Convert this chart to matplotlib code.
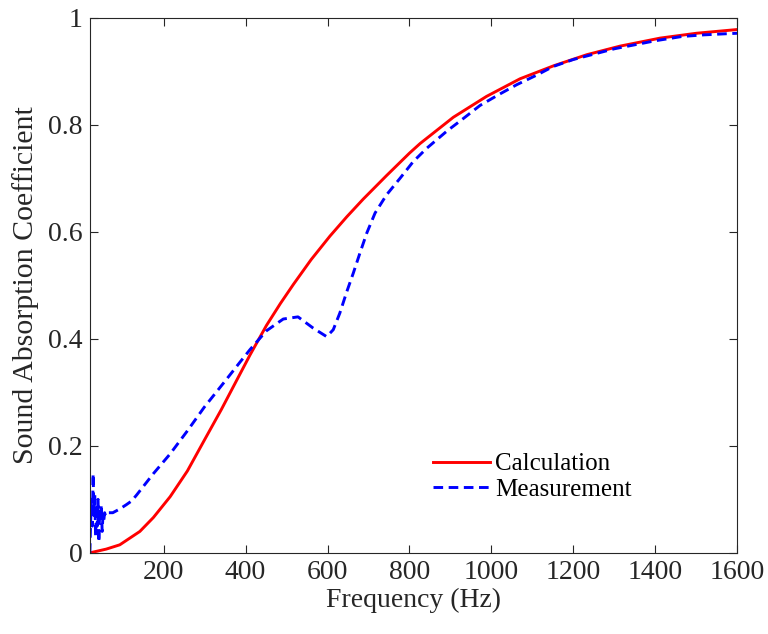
import matplotlib
matplotlib.use("Agg")
import matplotlib.pyplot as plt
from matplotlib.ticker import FixedLocator, FuncFormatter

plt.rcParams["font.family"] = ["Liberation Serif", "DejaVu Serif"]

# calculated absorption coefficient
f_calc = [20, 60, 93, 142, 175, 216, 258, 299, 341, 378, 411, 451, 485, 517,
          560, 606, 647, 687, 744, 800, 826, 907, 988, 1070, 1151, 1233, 1314,
          1412, 1500, 1600]
a_calc = [0.0, 0.007, 0.015, 0.040, 0.066, 0.105, 0.153, 0.210, 0.268, 0.322,
          0.370, 0.425, 0.466, 0.502, 0.548, 0.592, 0.628, 0.661, 0.705, 0.747,
          0.765, 0.814, 0.853, 0.886, 0.910, 0.931, 0.947, 0.962, 0.971, 0.978]

# measured absorption coefficient
f_meas = [20, 22, 24, 26, 28, 30, 32, 34, 36, 38, 40, 42, 44, 46, 48, 50, 52, 54,
          56, 58, 60, 76, 93, 109, 122, 134, 175, 216, 258, 299, 349, 386, 411,
          451, 492, 528, 565, 598, 614, 630, 647, 663, 679, 696, 716, 744, 777,
          809, 842, 891, 932, 972, 1017, 1062, 1111, 1151, 1200, 1300, 1400,
          1465, 1518, 1570, 1600]
a_meas = [0.0, 0.06, 0.10, 0.05, 0.148, 0.07, 0.11, 0.03, 0.09, 0.05, 0.10, 0.02,
          0.08, 0.06, 0.09, 0.04, 0.07, 0.06, 0.075, 0.07, 0.075, 0.075, 0.082,
          0.090, 0.097, 0.108, 0.148, 0.185, 0.228, 0.272, 0.320, 0.356, 0.380,
          0.415, 0.437, 0.441, 0.420, 0.404, 0.417, 0.448, 0.488, 0.523, 0.560,
          0.598, 0.635, 0.669, 0.700, 0.731, 0.756, 0.788, 0.812, 0.836, 0.856,
          0.875, 0.893, 0.909, 0.922, 0.942, 0.957, 0.965, 0.968, 0.970, 0.971]

x_ticks = [200, 400, 600, 800, 1000, 1200, 1400, 1600]
y_ticks = [0, 0.2, 0.4, 0.6, 0.8, 1.0]

fig = plt.figure(figsize=(7.68, 6.34), dpi=100)
ax = fig.add_axes([0.117, 0.128, 0.843, 0.844])

ax.plot(f_calc, a_calc, "-", color="#ff0000", lw=2.1, label="Calculation")
ax.plot(f_meas, a_meas, "--", color="#0000ff", lw=2.1, dashes=(3.3, 1.9),
        label="Measurement")

ax.set_xlim(20, 1600)
ax.set_ylim(0, 1)
ax.xaxis.set_major_locator(FixedLocator(x_ticks))
ax.yaxis.set_major_locator(FixedLocator(y_ticks))
ax.yaxis.set_major_formatter(FuncFormatter(lambda v, p: f"{v:g}"))

gray = "#262626"
for s in ax.spines.values():
    s.set_color(gray)
    s.set_linewidth(0.8)
ax.tick_params(direction="in", length=6, width=0.8, top=True, right=True,
               labelsize=20, colors=gray, pad=5)
ax.set_xlabel("Frequency (Hz)", fontsize=20, color=gray, labelpad=2)
ax.set_ylabel("Sound Absorption Coefficient", fontsize=21.5, color=gray, labelpad=7)

ax.legend(loc="upper left", bbox_to_anchor=(0.530, 0.187), frameon=False,
          fontsize=18, handlelength=2.3, handletextpad=0.2, borderpad=0,
          borderaxespad=0, labelspacing=0.12)

fig.savefig("out.png", dpi=100)
